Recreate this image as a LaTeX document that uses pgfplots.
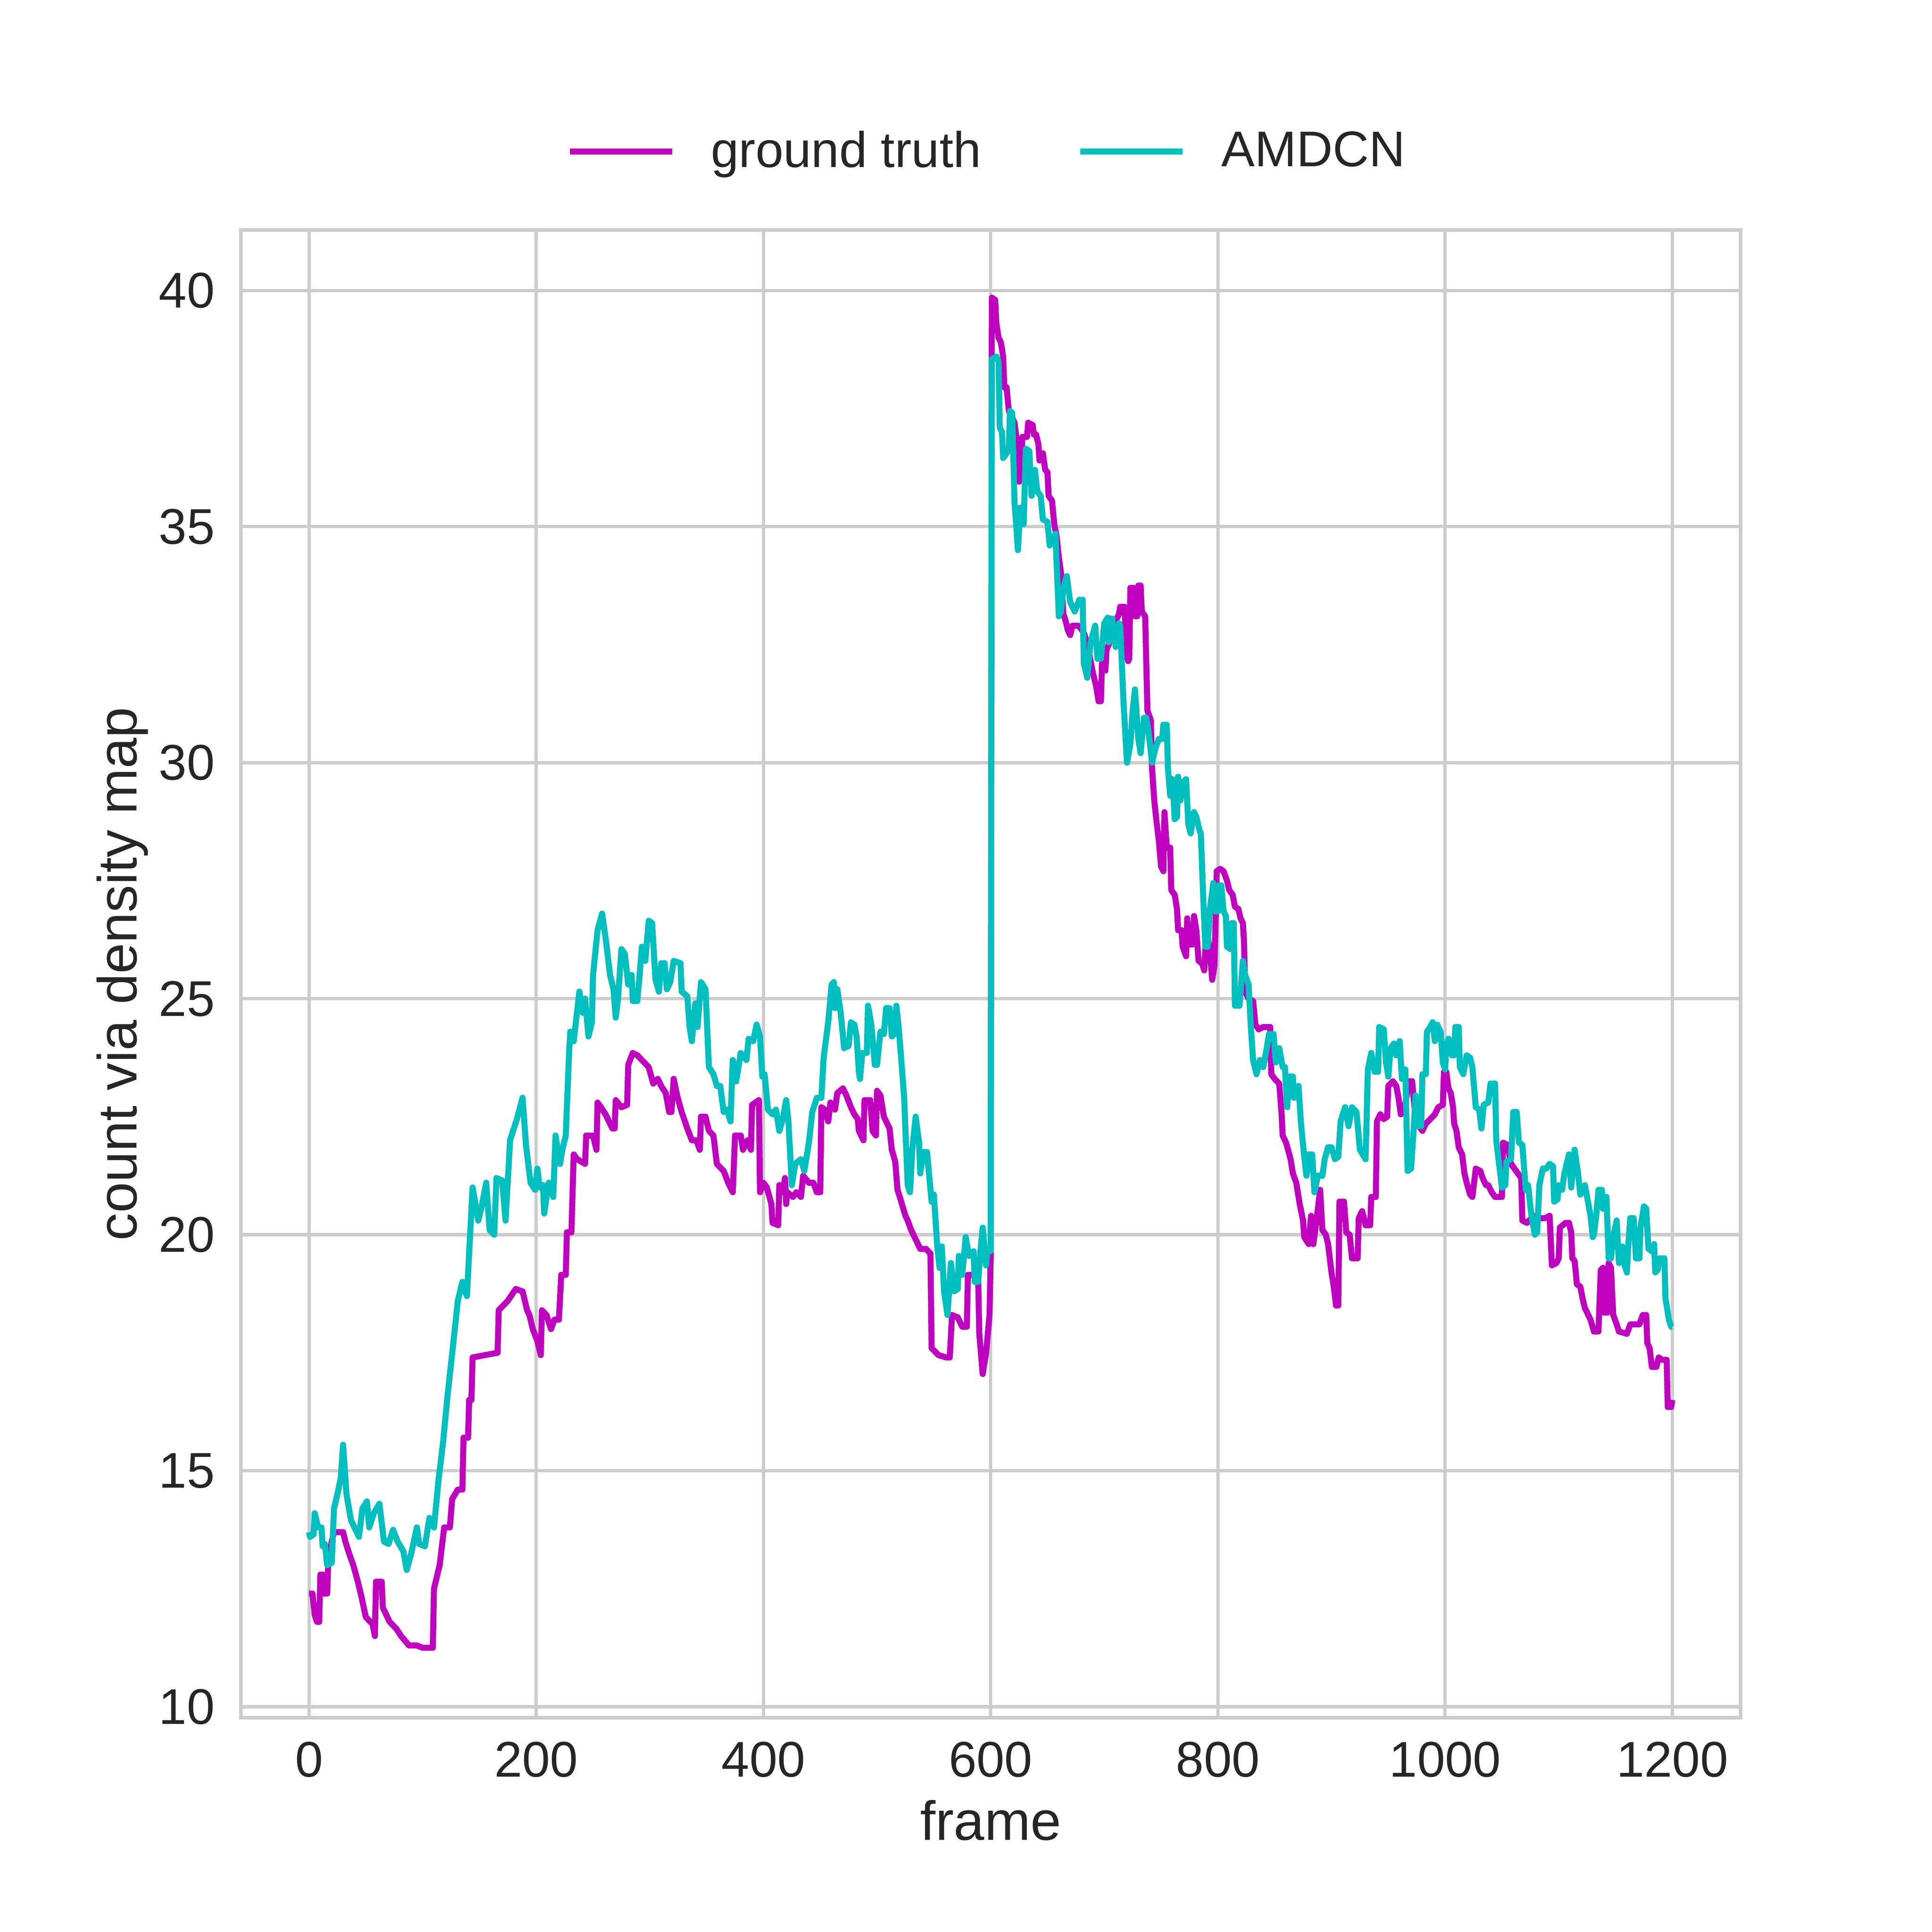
\documentclass[border=0pt]{standalone}
\usepackage{fontspec}
\setmainfont{Liberation Sans}
\usepackage{pgfplots}
\pgfplotsset{compat=1.18}
\definecolor{gtmag}{HTML}{BF00BF}
\definecolor{amcyan}{HTML}{00BFBF}
\definecolor{gridgray}{HTML}{CCCCCC}
\definecolor{txt}{HTML}{262626}
\begin{document}
\begin{tikzpicture}
\begin{axis}[
  name=ax,
  scale only axis,
  width=447.1bp, height=443.5bp,
  xmin=-60, xmax=1260,
  ymin=9.77, ymax=41.28,
  xtick={0,200,400,600,800,1000,1200},
  ytick={10,15,20,25,30,35,40},
  major tick length=0pt,
  grid=major,
  major grid style={color=gridgray, line width=1bp},
  axis line style={color=gridgray, line width=1.05bp},
  /pgf/number format/assume math mode=true,
  /pgf/number format/1000 sep={},
  tick label style={font=\fontsize{15}{18}\selectfont, text=txt, inner sep=0pt},
  xticklabel style={anchor=north, yshift=-7bp},
  yticklabel style={anchor=east, xshift=-7.6bp},
  xlabel={frame},
  ylabel={count via density map},
  label style={font=\fontsize{16.5}{19}\selectfont, text=txt, inner sep=0pt},
  xlabel style={at={(axis description cs:0.5,-0.0823)}, anchor=base},
  ylabel style={at={(axis description cs:-0.06956,0.5)}, anchor=base},
  legend columns=2,
  legend style={draw=none, fill=none, inner sep=0pt, outer sep=0pt,
    at={(axis description cs:0.2174,1.0528)}, anchor=west,
    font=\fontsize{15}{18}\selectfont, text=txt,
    nodes={inner sep=0pt},
    /tikz/every odd column/.append style={column sep=10.7bp},
    /tikz/every even column/.append style={column sep=28.6bp}},
  legend cell align=left,
  legend image code/.code={\draw[#1] (0bp,0bp) -- (30.5bp,0bp);},
  every axis plot/.append style={line width=1.8bp, line join=round},
]
\addplot[gtmag] coordinates {
(0,12.4)(3,12.4)(5,11.95)(7,11.8)(9,11.8)(10,12.8)(12,12.8)(13,12.4)(16,12.4)(17,13.1)
(20,13.5)(22,13.7)(30,13.7)(32,13.5)(36,13.2)(39,13.0)(43,12.65)(46,12.35)(50,11.9)(56,11.75)
(58,11.5)(59,12.65)(64,12.65)(65,12.1)(71,11.8)(77,11.65)(81,11.5)(88,11.3)(95,11.3)(100,11.25)
(109,11.25)(110,12.5)(115,13.0)(119,13.8)(124,13.8)(126,14.4)(131,14.6)(135,14.6)(136,15.7)(140,15.7)
(141,16.5)(143,16.5)(144,17.4)(166,17.5)(167,18.4)(175,18.6)(182,18.85)(188,18.8)(192,18.4)(194,18.3)
(197,18.0)(201,17.75)(204,17.45)(205,18.4)(209,18.3)(213,18.0)(216,18.2)(220,18.2)(222,19.15)(226,19.15)
(227,20.05)(231,20.05)(232,20.9)(233,21.7)(236,21.6)(243,21.5)(244,22.1)(250,22.1)(253,21.8)(254,22.8)
(257,22.7)(261,22.55)(267,22.25)(269,22.25)(270,22.85)(275,22.7)(280,22.75)(281,23.6)(285,23.85)(289,23.8)
(293,23.7)(299,23.55)(303,23.2)(307,23.3)(310,23.15)(314,23.0)(317,22.6)(319,22.6)(321,23.3)(324,22.95)
(328,22.6)(333,22.25)(337,22.0)(341,22.0)(344,21.8)(345,22.5)(349,22.5)(352,22.2)(356,22.1)(359,21.5)
(365,21.35)(369,21.1)(373,20.9)(375,22.1)(380,22.1)(382,21.8)(386,22.0)(389,21.8)(390,22.75)(396,22.85)
(397,20.9)(400,21.1)(403,21.0)(407,20.65)(408,20.25)(413,20.2)(414,21.05)(417,20.9)(419,21.2)(420,20.65)
(421,20.9)(426,20.8)(429,20.9)(433,20.8)(435,21.25)(440,21.1)(444,21.1)(447,20.9)(450,20.9)(451,22.7)
(454,22.65)(457,22.4)(459,22.8)(463,22.65)(465,23.0)(470,23.1)(473,22.95)(477,22.7)(480,22.55)(483,22.45)
(484,22.2)(488,22.0)(489,22.85)(494,22.85)(496,22.2)(499,22.1)(500,23.05)(503,22.95)(506,22.5)(511,22.25)
(513,21.8)(516,21.55)(518,20.95)(520,20.8)(525,20.4)(527,20.3)(530,20.1)(534,19.9)(538,19.7)(543,19.7)
(547,19.6)(548,17.6)(554,17.45)(561,17.4)(564,17.4)(566,18.3)(571,18.25)(575,18.05)(579,18.05)(580,19.15)
(585,19.15)(589,19.1)(590,17.9)(593,17.05)(596,17.5)(599,18.3)(600,19.5)(601,39.85)(604,39.8)(605,39.3)
(607,39.0)(609,38.9)(611,38.6)(612,37.95)(614,37.95)(616,37.45)(619,37.3)(621,37.2)(623,36.8)(624,36.6)
(625,35.95)(627,36.5)(628,36.9)(632,36.9)(633,37.2)(637,37.15)(638,36.95)(640,36.95)(642,36.75)(643,36.4)
(646,36.55)(648,36.2)(650,36.15)(651,35.65)(654,35.55)(656,35.05)(658,34.8)(660,34.35)(662,34.0)(664,33.15)
(666,33.0)(668,32.8)(670,32.7)(672,32.9)(677,32.9)(679,32.85)(682,32.75)(684,32.6)(686,32.4)(690,31.9)
(693,31.6)(695,31.3)(697,31.3)(698,32.1)(701,31.95)(702,32.4)(704,32.5)(706,33.05)(710,33.0)(713,33.15)
(714,33.3)(718,33.3)(719,32.4)(721,32.15)(722,32.2)(723,33.7)(726,33.7)(727,33.1)(729,33.1)(730,33.75)
(732,33.75)(733,33.2)(736,33.1)(738,31.1)(741,30.9)(742,29.9)(744,29.2)(746,28.75)(748,28.35)(750,27.8)
(752,27.7)(753,28.95)(755,28.2)(758,28.2)(759,27.3)(762,27.2)(764,26.9)(765,26.45)(768,26.45)(769,26.1)
(772,25.9)(773,26.7)(775,26.15)(778,26.15)(779,26.75)(781,26.45)(783,25.8)(786,25.75)(788,25.6)(790,26.5)
(793,26.0)(795,25.4)(797,25.7)(799,27.7)(802,27.75)(805,27.7)(808,27.5)(810,27.3)(813,27.2)(815,26.95)
(818,26.9)(820,26.7)(822,26.6)(823,26.2)(824,25.15)(827,25.0)(831,24.95)(833,24.45)(836,24.35)(840,24.4)
(843,24.4)(846,24.4)(847,23.4)(850,23.3)(854,23.2)(856,22.6)(857,22.1)(860,21.95)(864,21.6)(866,21.3)
(869,21.1)(872,20.65)(875,20.3)(876,19.95)(880,19.8)(882,20.4)(884,19.8)(887,20.35)(890,20.95)(892,20.1)
(895,20.0)(897,19.8)(900,19.2)(902,18.9)(904,18.5)(906,18.5)(907,20.7)(911,20.7)(913,20.05)(916,20.0)
(918,19.5)(923,19.5)(924,20.35)(927,20.5)(930,20.2)(934,20.2)(935,20.8)(939,20.8)(940,22.4)(943,22.55)
(946,22.45)(949,22.5)(950,23.15)(954,23.25)(957,23.15)(959,22.9)(961,22.55)(964,22.6)(968,23.25)(971,23.25)
(973,22.7)(977,22.3)(980,22.2)(983,22.35)(987,22.45)(991,22.55)(994,22.7)(998,22.75)(999,23.45)(1001,23.45)
(1003,23.1)(1005,23.0)(1007,22.7)(1008,22.35)(1010,22.2)(1012,21.85)(1015,21.7)(1017,21.3)(1019,21.1)(1022,20.85)
(1024,20.8)(1027,21.4)(1031,21.35)(1033,21.2)(1036,21.05)(1038,21.05)(1041,20.9)(1044,20.8)(1050,20.8)(1051,21.95)
(1055,21.9)(1058,21.5)(1064,21.3)(1067,21.2)(1068,20.3)(1072,20.25)(1078,20.4)(1083,20.35)(1088,20.35)(1092,20.4)
(1094,19.35)(1098,19.4)(1100,19.5)(1101,20.15)(1106,20.25)(1109,20.25)(1111,20.05)(1112,19.5)(1114,19.45)(1116,18.95)
(1119,18.9)(1121,18.65)(1123,18.45)(1125,18.35)(1128,18.2)(1131,17.95)(1135,17.95)(1137,19.25)(1139,19.3)(1140,18.35)
(1143,18.35)(1144,19.4)(1146,19.3)(1148,18.3)(1151,18.1)(1153,17.95)(1160,17.9)(1163,18.1)(1168,18.1)(1171,18.1)
(1174,18.3)(1177,18.3)(1178,17.7)(1180,17.6)(1182,17.2)(1186,17.2)(1188,17.4)(1191,17.35)(1195,17.35)(1196,16.35)
(1199,16.35)(1200,16.5)
};
\addlegendentry{ground truth}
\addplot[amcyan] coordinates {
(0,13.7)(1,13.6)(4,13.65)(5,14.1)(8,13.8)(11,13.8)(12,13.4)(14,13.45)(16,13.0)(20,13.05)
(22,14.2)(25,14.5)(28,14.85)(30,15.55)(32,14.85)(33,14.5)(37,13.95)(42,13.7)(44,13.6)(47,14.2)
(51,14.35)(53,13.8)(57,14.1)(62,14.3)(66,13.5)(70,13.45)(74,13.75)(78,13.5)(83,13.3)(86,12.9)
(90,13.25)(95,13.8)(97,13.45)(102,13.4)(106,14.0)(110,13.8)(114,14.8)(118,15.6)(122,16.6)(127,17.7)
(131,18.6)(135,19.0)(139,18.7)(144,21.0)(149,20.3)(152,20.6)(156,21.1)(159,20.1)(163,20.0)(165,21.2)
(170,21.15)(173,20.3)(177,22.0)(183,22.45)(188,22.9)(191,21.9)(195,21.1)(199,20.95)(201,21.4)(203,21.0)
(206,21.05)(207,20.45)(211,21.1)(215,20.8)(217,22.1)(221,21.5)(223,21.8)(226,22.1)(229,23.9)(230,24.3)
(233,24.1)(238,25.15)(241,24.7)(243,25.0)(246,24.2)(249,24.5)(250,25.5)(254,26.45)(258,26.8)(261,26.3)
(265,25.5)(268,25.2)(270,24.6)(272,25.0)(275,26.05)(278,25.95)(281,25.3)(284,25.5)(285,24.95)(289,24.95)
(291,25.5)(293,26.1)(296,25.8)(299,26.65)(302,26.6)(305,25.4)(308,25.15)(310,25.75)(313,25.75)(315,25.2)
(318,25.35)(321,25.8)(327,25.75)(328,25.15)(333,25.05)(335,24.4)(337,24.1)(340,24.9)(342,24.4)(345,25.35)
(349,25.2)(352,23.55)(356,23.4)(359,23.15)(362,23.15)(365,22.6)(368,22.65)(371,22.4)(373,23.7)(376,23.25)
(380,23.85)(385,23.7)(387,24.15)(391,24.1)(394,24.45)(397,24.2)(399,23.35)(401,23.4)(404,22.65)(408,22.55)
(411,22.65)(414,22.2)(417,22.45)(420,22.85)(422,22.4)(425,21.05)(428,21.5)(433,21.6)(436,21.35)(440,21.95)
(443,22.6)(447,22.9)(451,22.9)(453,23.75)(457,24.5)(460,25.3)(462,25.35)(463,24.8)(465,25.2)(468,24.7)
(471,23.95)(475,24.0)(477,24.5)(480,24.45)(482,24.2)(484,23.45)(485,23.3)(487,23.85)(491,23.85)(492,24.85)
(495,24.45)(498,23.6)(500,23.6)(503,24.3)(506,24.25)(508,24.8)(511,24.8)(513,24.2)(515,24.25)(517,24.85)
(519,24.4)(522,23.5)(524,22.85)(525,22.2)(527,21.05)(529,20.9)(531,21.8)(534,22.5)(537,21.95)(538,21.3)
(541,21.75)(544,21.75)(548,20.7)(550,20.85)(553,19.75)(555,19.3)(557,19.75)(559,18.8)(562,18.3)(565,19.4)
(568,18.8)(571,18.85)(572,19.55)(575,19.15)(578,19.95)(581,19.55)(585,19.65)(586,19.0)(589,19.0)(591,19.65)
(593,20.15)(596,19.35)(597,19.65)(600,19.65)(601,38.55)(605,38.6)(607,38.5)(608,37.1)(610,37.0)(611,36.45)
(614,36.55)(616,36.65)(617,37.45)(619,37.4)(621,35.5)(622,35.2)(624,34.5)(626,35.4)(629,35.05)(631,36.65)
(634,36.6)(636,35.65)(639,36.2)(641,35.75)(644,35.65)(646,35.15)(650,35.1)(652,34.6)(657,34.85)(660,33.1)
(662,33.2)(664,33.7)(667,33.95)(670,33.4)(674,33.2)(678,33.45)(681,33.45)(682,32.1)(685,31.8)(688,32.55)
(692,32.9)(694,32.2)(697,32.2)(700,32.95)(703,33.07)(704,32.55)(707,33.05)(710,32.45)(713,32.95)(714,32.9)
(717,31.25)(720,30.0)(723,30.4)(725,31.1)(727,31.55)(730,30.5)(732,30.2)(735,30.95)(737,30.95)(739,30.65)
(742,30.0)(745,30.3)(748,30.5)(751,30.5)(752,30.8)(755,30.8)(756,29.9)(758,29.3)(760,29.65)(762,28.8)
(764,28.85)(765,29.7)(767,29.2)(770,29.6)(772,29.65)(774,28.7)(776,28.5)(779,28.95)(781,28.85)(784,28.55)
(785,28.5)(787,27.2)(789,26.1)(791,26.1)(793,26.9)(796,27.45)(798,26.85)(800,26.85)(801,27.4)(803,27.4)
(805,26.85)(807,26.75)(808,26.1)(811,26.05)(812,26.6)(814,26.6)(815,24.85)(819,24.85)(822,25.8)(824,25.5)
(827,25.3)(829,24.4)(831,23.7)(834,23.4)(837,23.7)(840,23.55)(843,23.95)(845,24.25)(849,24.25)(851,23.65)
(854,23.95)(857,23.55)(859,23.55)(861,22.7)(863,23.35)(866,23.35)(867,22.9)(871,23.15)(873,22.4)(876,21.65)
(878,21.25)(880,21.7)(883,21.7)(885,20.9)(888,21.25)(892,21.25)(894,21.6)(897,21.85)(900,21.85)(903,21.6)
(906,21.65)(908,22.4)(912,22.7)(915,22.3)(918,22.7)(922,22.6)(925,21.8)(930,21.6)(932,23.5)(935,23.85)
(938,23.45)(941,23.45)(942,24.4)(946,24.35)(948,23.65)(950,23.35)(952,23.95)(955,24.05)(957,23.8)(960,24.1)
(962,23.3)(965,23.5)(967,21.35)(970,21.4)(972,22.1)(974,22.95)(976,22.3)(979,22.3)(980,23.4)(983,23.4)
(984,24.3)(987,24.4)(989,24.5)(991,24.1)(993,24.45)(996,24.3)(998,23.65)(1000,23.5)(1001,24.0)(1003,24.15)
(1006,23.8)(1008,23.8)(1009,24.4)(1012,24.4)(1013,23.55)(1016,23.4)(1019,23.8)(1022,23.75)(1024,23.55)(1027,22.7)
(1030,22.65)(1032,22.25)(1034,22.75)(1038,22.8)(1040,23.2)(1044,23.2)(1045,22.0)(1048,21.4)(1050,21.0)(1053,21.05)
(1054,21.55)(1058,21.6)(1060,22.6)(1063,22.6)(1065,21.95)(1068,21.9)(1071,20.95)(1073,21.05)(1076,20.4)(1079,20.0)
(1081,20.05)(1083,21.05)(1086,21.4)(1089,21.4)(1092,21.5)(1095,21.45)(1096,20.7)(1099,20.75)(1100,21.05)(1103,20.95)
(1105,21.3)(1107,21.5)(1109,21.7)(1111,21.0)(1114,21.8)(1117,21.3)(1119,20.85)(1123,21.05)(1125,20.8)(1128,20.4)
(1130,19.95)(1131,20.0)(1133,20.4)(1135,20.95)(1138,20.95)(1139,20.55)(1142,20.8)(1144,19.5)(1146,19.5)(1148,19.95)
(1151,20.3)(1153,19.4)(1156,19.75)(1158,19.35)(1160,19.2)(1161,19.7)(1163,20.35)(1166,20.35)(1168,19.5)(1171,19.5)
(1172,20.15)(1173,20.3)(1175,20.6)(1177,20.55)(1179,19.7)(1182,19.65)(1184,19.8)(1185,19.2)(1187,19.25)(1189,19.5)
(1193,19.5)(1194,18.65)(1197,18.2)(1199,18.05)(1200,18.05)
};
\addlegendentry{AMDCN}
\end{axis}
\path[use as bounding box] ([xshift=-71.8bp,yshift=-63.9bp]ax.south west) rectangle ([xshift=57.1bp,yshift=68.6bp]ax.north east);
\end{tikzpicture}
\end{document}
